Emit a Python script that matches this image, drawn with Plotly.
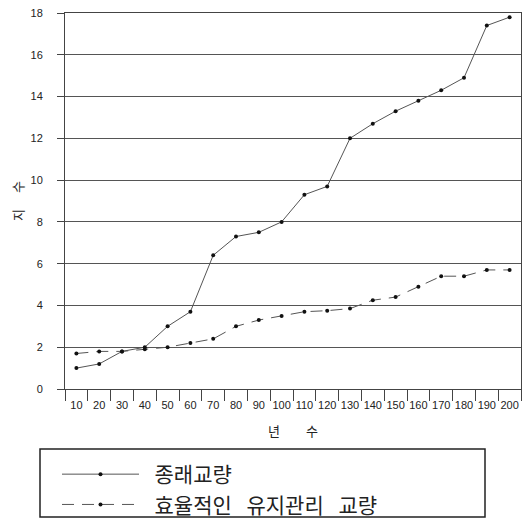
import plotly.graph_objects as go

years = ["10", "20", "30", "40", "50", "60", "70", "80", "90", "100",
         "110", "120", "130", "140", "150", "160", "170", "180", "190", "200"]
conventional = [1.0, 1.2, 1.8, 2.0, 3.0, 3.7, 6.4, 7.3, 7.5, 8.0,
                9.3, 9.7, 12.0, 12.7, 13.3, 13.8, 14.3, 14.9, 17.4, 17.8]
maintained = [1.7, 1.8, 1.8, 1.9, 2.0, 2.2, 2.4, 3.0, 3.3, 3.5,
              3.7, 3.75, 3.85, 4.25, 4.4, 4.9, 5.4, 5.4, 5.7, 5.7]
series_names = ["\u2002종래교량", "\u2002효율적인\u2002\u2009유지관리\u2002\u2009교량"]
y_ticks = [0, 2, 4, 6, 8, 10, 12, 14, 16, 18]

KFONT = "Noto Sans CJK KR"
TFONT = "Liberation Sans"

# the page places the figure 8px from the top-left corner
W, H = 514, 511
L, R, T, B = 57, 1, 5, 130
PW, PH = W - L - R, H - T - B


def px_x(v):
    return (v - L) / PW


def px_y(v):
    return (H - B - v) / PH


fig = go.Figure()
fig.add_trace(go.Scatter(
    x=years, y=conventional, name=series_names[0], mode="lines+markers",
    line=dict(color="#555555", width=1),
    marker=dict(color="#111111", size=4),
))
fig.add_trace(go.Scatter(
    x=years, y=maintained, name=series_names[1], mode="lines+markers",
    line=dict(color="#555555", width=1, dash="12px,8px"),
    marker=dict(color="#111111", size=4),
))

fig.update_layout(
    width=W, height=H,
    margin=dict(l=L, r=R, t=T, b=B, autoexpand=False),
    paper_bgcolor="white", plot_bgcolor="white",
    showlegend=True,
    legend=dict(
        x=px_x(49), y=px_y(446), xanchor="left", yanchor="top",
        font=dict(family=KFONT, size=21, color="#222222"),
        bgcolor="rgba(0,0,0,0)", borderwidth=0,
        itemwidth=77,
    ),
    shapes=[dict(
        type="rect", xref="paper", yref="paper",
        x0=px_x(32), x1=px_x(477),
        y0=px_y(509), y1=px_y(441),
        line=dict(color="#222222", width=1.5),
    )],
)

fig.update_xaxes(
    type="category", categoryorder="array", categoryarray=years,
    range=[-0.5, 19.5],
    tickson="boundaries", ticks="outside", ticklen=11, tickcolor="#444444",
    tickangle=0, ticklabelstandoff=6,
    tickfont=dict(family=TFONT, size=11, color="#222222"),
    showline=True, linecolor="#444444", linewidth=1, mirror=True,
    showgrid=False, zeroline=False,
    title=dict(text="년\u2003\u2003수", font=dict(family=KFONT, size=13, color="#222222"), standoff=16),
)
fig.update_yaxes(
    range=[0, 18], tickvals=y_ticks, ticktext=[str(v) for v in y_ticks],
    ticks="outside", ticklen=7, tickcolor="#444444",
    tickfont=dict(family=TFONT, size=11, color="#222222"),
    ticklabeloverflow="allow",
    showline=True, linecolor="#444444", linewidth=1, mirror=True,
    showgrid=True, gridcolor="#555555", gridwidth=1, zeroline=False,
    ticklabelstandoff=12,
    title=dict(text="지\u2003 수", font=dict(family=KFONT, size=13, color="#222222"), standoff=11),
)

fig.write_html("out.html")
